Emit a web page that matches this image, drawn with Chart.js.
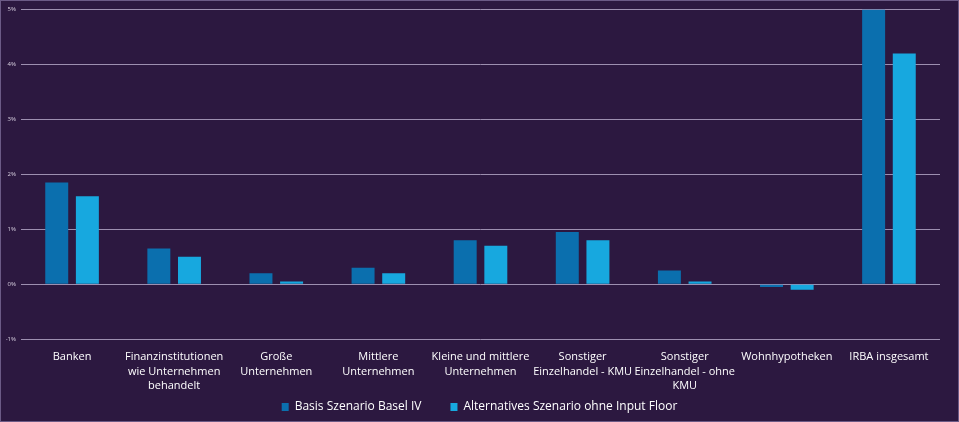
<!DOCTYPE html>
<html>
<head>
<meta charset="utf-8">
<script src="https://cdn.jsdelivr.net/npm/chart.js@4/dist/chart.umd.min.js"></script>
<style>
  html, body { margin: 0; padding: 0; background: #2c1840; }
  #wrap { position: relative; width: 957px; height: 420px; border: 1px solid #6b5a86; background: #2c1840; }
</style>
</head>
<body>
<div id="wrap"><canvas id="Chart"></canvas></div>
<script>
const categories = [
  'Banken',
  ['Finanzinstitutionen', 'wie Unternehmen', 'behandelt'],
  ['Große', 'Unternehmen'],
  ['Mittlere', 'Unternehmen'],
  ['Kleine und mittlere', 'Unternehmen'],
  ['Sonstiger', 'Einzelhandel - KMU'],
  ['Sonstiger', 'Einzelhandel - ohne', 'KMU'],
  'Wohnhypotheken',
  'IRBA insgesamt'
];
const basisValues = [1.85, 0.65, 0.2, 0.3, 0.8, 0.95, 0.25, -0.05, 5.0];
const altValues = [1.6, 0.5, 0.05, 0.2, 0.7, 0.8, 0.05, -0.1, 4.2];
const seriesNames = ['Basis Szenario Basel IV', 'Alternatives Szenario ohne Input Floor'];
const seriesColors = ['#0b6fae', '#17a8df'];

// legend sits a touch lower in the original
const legendNudge = {
  id: 'legendNudge',
  beforeInit(c) {
    const fit = c.legend.fit;
    c.legend.fit = function () {
      fit.call(c.legend);
      this.height -= 2;
    };
  }
};

var chart = new Chart('Chart', {
  type: 'bar',
  data: {
    labels: categories,
    datasets: [{
      label: seriesNames[0],
      data: basisValues,
      backgroundColor: seriesColors[0]
    }, {
      label: seriesNames[1],
      data: altValues,
      backgroundColor: seriesColors[1]
    }]
  },
  plugins: [legendNudge],
  options: {
    responsive: true,
    maintainAspectRatio: false,
    animation: false,
    layout: { padding: { top: 3, right: 0, left: 0, bottom: 0 } },
    datasets: {
      bar: { categoryPercentage: 0.6, barPercentage: 0.75 }
    },
    scales: {
      x: {
        grid: { display: false },
        border: { display: false },
        ticks: {
          color: '#ffffff',
          font: { family: 'Open Sans', size: 11, lineHeight: 1.3 },
          maxRotation: 0,
          autoSkip: false,
          padding: 3
        }
      },
      y: {
        min: -1,
        max: 5,
        afterFit: function (scale) { scale.width = 20; },
        grid: { color: '#9d8fb0', lineWidth: 1, drawTicks: false },
        border: { display: false },
        ticks: {
          stepSize: 1,
          color: '#d8d0e0',
          font: { family: 'Open Sans', size: 6 },
          padding: 5,
          callback: function (v) { return v + '%'; }
        }
      },
      // empty strip on the right so the legend centres on the full width
      yr: {
        position: 'right',
        afterFit: function (scale) { scale.width = 18; },
        grid: { display: false },
        border: { display: false },
        ticks: { display: false }
      }
    },
    plugins: {
      legend: {
        position: 'bottom',
        labels: {
          color: '#ffffff',
          font: { family: 'Open Sans', size: 12 },
          boxWidth: 7,
          boxHeight: 8,
          padding: 5,
          // wider gap after the first entry, like the original
          generateLabels: function (c) {
            const items = Chart.defaults.plugins.legend.labels.generateLabels(c);
            items[0].text = items[0].text + '\u2003\u2003';
            return items;
          }
        }
      },
      tooltip: { enabled: false }
    }
  }
});
</script>
</body>
</html>
